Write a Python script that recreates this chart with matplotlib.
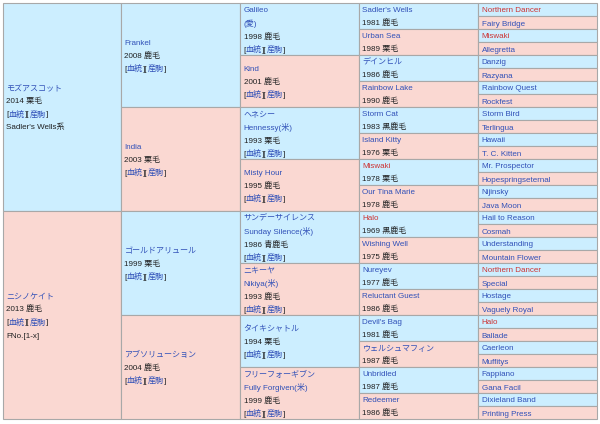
import re
import matplotlib
matplotlib.use("Agg")
import matplotlib.pyplot as plt
from matplotlib.patches import Rectangle

plt.rcParams['font.family'] = ['Liberation Sans', 'Noto Sans CJK JP']

# pedigree data; {..} marks a link
L = "[{血統}][{産駒}]"
gen1 = [
    ["{モズアスコット}", "2014 栗毛", L, "Sadler's Wells系"],
    ["{ニシノケイト}", "2013 鹿毛", L, "FNo.[1-x]"],
]
gen2 = [
    ["{Frankel}", "2008 鹿毛", L],
    ["{India}", "2003 栗毛", L],
    ["{ゴールドアリュール}", "1999 栗毛", L],
    ["{アブソリューション}", "2004 鹿毛", L],
]
gen3 = [
    ["{Galileo}", "{(愛)}", "1998 鹿毛", L],
    ["{Kind}", "2001 鹿毛", L],
    ["{ヘネシー}", "{Hennessy(米)}", "1993 栗毛", L],
    ["{Misty Hour}", "1995 鹿毛", L],
    ["{サンデーサイレンス}", "{Sunday Silence(米)}", "1986 青鹿毛", L],
    ["{ニキーヤ}", "{Nikiya(米)}", "1993 鹿毛", L],
    ["{タイキシャトル}", "1994 栗毛", L],
    ["{フリーフォーギブン}", "{Fully Forgiven(米)}", "1999 鹿毛", L],
]
gen4_names = ["Sadler's Wells", "Urban Sea", "デインヒル", "Rainbow Lake",
              "Storm Cat", "Island Kitty", "Miswaki", "Our Tina Marie",
              "Halo", "Wishing Well", "Nureyev", "Reluctant Guest",
              "Devil's Bag", "ウェルシュマフィン", "Unbridled", "Redeemer"]
gen4_info = ["1981 鹿毛", "1989 栗毛", "1986 鹿毛", "1990 鹿毛",
             "1983 黒鹿毛", "1976 栗毛", "1978 栗毛", "1978 鹿毛",
             "1969 黒鹿毛", "1975 鹿毛", "1977 鹿毛", "1986 鹿毛",
             "1981 鹿毛", "1987 鹿毛", "1987 鹿毛", "1986 鹿毛"]
gen5_names = ["Northern Dancer", "Fairy Bridge", "Miswaki", "Allegretta",
              "Danzig", "Razyana", "Rainbow Quest", "Rockfest",
              "Storm Bird", "Terlingua", "Hawaii", "T. C. Kitten",
              "Mr. Prospector", "Hopespringseternal", "Nijinsky", "Java Moon",
              "Hail to Reason", "Cosmah", "Understanding", "Mountain Flower",
              "Northern Dancer", "Special", "Hostage", "Vaguely Royal",
              "Halo", "Ballade", "Caerleon", "Muffitys",
              "Fappiano", "Gana Facil", "Dixieland Band", "Printing Press"]
inbred = {"Northern Dancer", "Miswaki", "Halo"}

gen4 = [["{%s}" % n, i] for n, i in zip(gen4_names, gen4_info)]
gen5 = [["{%s}" % n] for n in gen5_names]
generations = [gen1, gen2, gen3, gen4, gen5]

# layout (pixels)
col_x = [3, 121, 240, 359, 478, 597]
top, bottom = 3, 419
line_h = 13
pad = 3.5
fs = 5.8

blue_bg = '#cceeff'
pink_bg = '#fad8d2'
border = '#a8a8a8'
link_c = '#3050b8'
red_c = '#cc3333'
text_c = '#202122'

fig = plt.figure(figsize=(6, 4.24), dpi=100)
ax = fig.add_axes([0, 0, 1, 1])
ax.set_xlim(0, 600)
ax.set_ylim(424, 0)
ax.axis('off')
renderer = fig.canvas.get_renderer()


def draw_line(x, y, line):
    for seg in re.split(r'(\{[^}]*\})', line):
        if not seg:
            continue
        color = text_c
        if seg.startswith('{'):
            seg = seg[1:-1]
            color = red_c if seg in inbred else link_c
        t = ax.text(x, y, seg, fontsize=fs, color=color, va='baseline', ha='left')
        x += t.get_window_extent(renderer).width


for g, cells in enumerate(generations):
    span = (bottom - top) / len(cells)
    for i, lines in enumerate(cells):
        y0 = top + i * span
        ax.add_patch(Rectangle((col_x[g], y0), col_x[g + 1] - col_x[g], span,
                               facecolor=blue_bg if i % 2 == 0 else pink_bg,
                               edgecolor=border, lw=0.8))
        first = y0 + span / 2 - (len(lines) - 1) * line_h / 2
        for k, line in enumerate(lines):
            draw_line(col_x[g] + pad, first + k * line_h + 3, line)

fig.savefig("out.png", dpi=100, facecolor='white')
